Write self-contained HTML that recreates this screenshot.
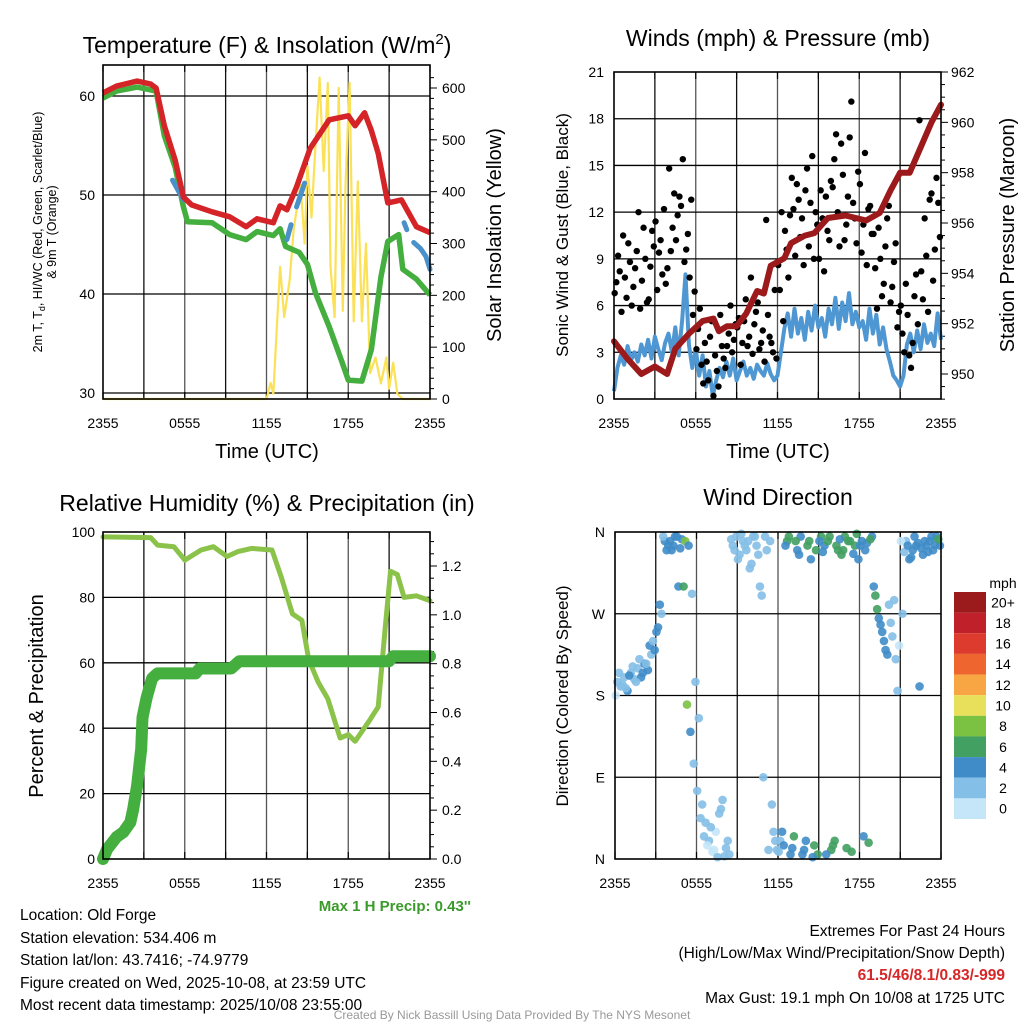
<!DOCTYPE html>
<html><head><meta charset="utf-8">
<style>
html,body{margin:0;padding:0;background:#fff;}
svg{display:block;font-family:"Liberation Sans",sans-serif;}
</style></head>
<body>
<svg id="s" width="1024" height="1024" viewBox="0 0 1024 1024" xmlns="http://www.w3.org/2000/svg">
<g id="g1"></g>
<g id="g2"></g>
<g id="g3"></g>
<g id="g4"></g>
<g id="txt">
<text x="267" y="53" font-size="23" text-anchor="middle">Temperature (F) &amp; Insolation (W/m<tspan dy="-9" font-size="15">2</tspan><tspan dy="9">)</tspan></text>
<text transform="translate(42,232) rotate(-90)" font-size="12.5" text-anchor="middle">2m T, T<tspan dy="3" font-size="9">d</tspan><tspan dy="-3">, HI/WC (Red, Green, Scarlet/Blue)</tspan></text>
<text transform="translate(56,232) rotate(-90)" font-size="12.5" text-anchor="middle">&amp; 9m T (Orange)</text>
<text transform="translate(501,235) rotate(-90)" font-size="20" text-anchor="middle">Solar Insolation (Yellow)</text>
<text x="267" y="458" font-size="20" text-anchor="middle">Time (UTC)</text>
<text x="778" y="46" font-size="23" text-anchor="middle">Winds (mph) &amp; Pressure (mb)</text>
<text transform="translate(568,235) rotate(-90)" font-size="17" text-anchor="middle">Sonic Wind &amp; Gust (Blue, Black)</text>
<text transform="translate(1014,235) rotate(-90)" font-size="20" text-anchor="middle">Station Pressure (Maroon)</text>
<text x="778" y="458" font-size="20" text-anchor="middle">Time (UTC)</text>
<text x="267" y="511" font-size="23" text-anchor="middle">Relative Humidity (%) &amp; Precipitation (in)</text>
<text transform="translate(43,696) rotate(-90)" font-size="20" text-anchor="middle">Percent &amp; Precipitation</text>
<text x="471" y="911" font-size="15" font-weight="bold" fill="#3a9a2a" text-anchor="end">Max 1 H Precip: 0.43''</text>
<text x="778" y="505" font-size="23" text-anchor="middle">Wind Direction</text>
<text transform="translate(568,696) rotate(-90)" font-size="17" text-anchor="middle">Direction (Colored By Speed)</text>
<text x="1003" y="588" font-size="14" text-anchor="middle">mph</text>
<g font-size="15.5">
<text x="20" y="920">Location: Old Forge</text>
<text x="20" y="943">Station elevation: 534.406 m</text>
<text x="20" y="965">Station lat/lon: 43.7416; -74.9779</text>
<text x="20" y="988">Figure created on Wed, 2025-10-08, at 23:59 UTC</text>
<text x="20" y="1010">Most recent data timestamp: 2025/10/08 23:55:00</text>
</g>
<g font-size="15.5" text-anchor="end">
<text x="1005" y="936">Extremes For Past 24 Hours</text>
<text x="1005" y="958">(High/Low/Max Wind/Precipitation/Snow Depth)</text>
<text x="1005" y="980" fill="#d62728" font-weight="bold">61.5/46/8.1/0.83/-999</text>
<text x="1005" y="1003">Max Gust: 19.1 mph On 10/08 at 1725 UTC</text>
</g>
<text x="512" y="1019" font-size="12" fill="#999" text-anchor="middle">Created By Nick Bassill Using Data Provided By The NYS Mesonet</text>
</g>
</svg>
<script>
// ---- data ----
const xTickLabels=["2355","0555","1155","1755","2355"];
const tempHours=[0,1,2.5,3.5,3.9,4.5,5.3,5.9,6.5,8,9.3,10.5,11.3,12.5,13,13.5,14.2,15.2,16.6,18,18.5,19.2,19.7,20.2,20.9,21.9,23,24];
const tempVals=[60.3,61,61.5,61.2,60.8,57,53.5,49.8,49,48.3,47.8,46.8,47.6,47.2,48.9,48.5,50.8,54.7,57.6,58,57,58.3,56.5,54.2,49.2,49.5,46.8,46.2];
const dewHours=[0,1,2.5,3.9,4.5,5.3,5.9,6.2,8,9.3,10.5,11.3,12.5,13,13.4,14.4,15,15.6,16.6,17.5,18,19,19.7,20.4,20.9,21.7,22,23,24];
const dewVals=[59.8,60.5,60.9,60.5,56,52.8,48.8,47.3,47.2,46,45.5,46.3,45.9,46.6,44.8,44.2,43,40.1,36.7,33.3,31.3,31.2,34.4,41.7,45.3,46,42.5,41.5,39.9];
const hiHours=[5.1,5.5,5.9,null,13.5,13.8,null,14.2,14.5,14.8,null,20.8,21.0,null,22.1,22.3,null,22.8,23.3,23.7,24];
const hiVals=[51.5,50.5,49.5,null,45.5,47,null,48.8,50,51.2,null,50,49.3,null,47.2,46.5,null,45.2,44.6,43.8,42.5];
const solarHours=[0,12,12.3,12.5,13,13.3,13.7,14,14.5,14.8,15,15.3,15.6,15.9,16.2,16.5,16.7,17,17.3,17.6,17.8,18.1,18.4,18.7,19,19.3,19.6,20,20.4,20.8,21,21.3,21.6,22,24];
const solarVals=[0,0,31,10,255,158,230,330,413,300,450,350,490,620,440,610,255,158,600,170,413,610,150,420,150,300,50,80,30,80,20,70,10,0,0];
const windVals=[0.5,2.0,2.8,2.2,3.4,2.5,3.0,2.4,3.5,
2.8,3.8,2.6,4.0,3.2,2.5,3.6,4.2,
3.0,4.6,2.8,5.0,8.0,3.5,2.0,3.2,
1.5,2.8,0.8,1.8,0.2,1.2,2.0,1.4,
2.4,1.5,2.6,1.2,1.8,2.4,1.5,2.0,
1.3,2.2,1.8,1.5,2.3,1.6,1.2,1.5,
3.0,4.5,5.5,4.0,5.8,4.2,5.2,3.8,
5.6,4.4,6.0,4.6,5.2,4.0,5.8,4.8,
6.5,4.5,6.2,5.0,6.8,4.8,5.6,4.6,
5.0,3.8,5.8,4.2,5.4,3.5,4.6,3.2,
2.4,1.5,1.2,0.8,1.5,3.5,4.2,3.0,
4.4,3.2,4.8,3.6,4.2,3.4,5.5,3.8];
const gustVals=[7.5,8.2,10.5,6.5,8.8,7.2,9.5,5.8,11,6.2,8.5,9.8,7.0,10.2,12.2,8.4,
9.5,13.2,11.8,12.4,8.8,10.6,12.8,6.9,
4.5,2.2,3.6,1.2,5.0,2.8,0.8,3.4,2.0,4.2,3.0,4.8,
5.2,3.6,6.4,4.0,2.9,5.6,3.2,4.4,11.5,4.0,3.0,2.6,
7.0,5.0,9.6,11.8,12.2,13.8,10.4,8.6,14.8,12.6,9.0,11.2,13.4,8.2,10.8,14.0,
15.4,12.0,16.4,10.2,13.0,19.1,11.6,14.6,9.4,15.8,12.2,10.6,
8.4,11.0,6.6,9.8,12.4,7.2,10.0,5.6,
4.2,7.4,2.8,3.6,8.0,17.9,
6.4,9.2,12.8,7.6,14.2,10.4];
const gustVals2=[6.8,9.2,5.6,7.8,10.0,6.0,8.4,12.0,7.6,9.0,6.4,10.8,11.4,9.4,8.0,7.4,
14.8,11.0,10.2,13.0,15.4,9.6,7.8,5.4,
3.2,5.8,1.0,2.4,4.0,0.2,1.8,5.4,2.6,3.4,6.0,3.8,
4.6,2.2,5.0,3.4,7.8,4.8,6.2,3.6,2.4,5.4,3.6,7.0,
8.6,12.0,10.8,7.8,14.2,9.2,12.8,11.6,13.4,9.8,15.6,12.0,9.0,11.6,13.0,10.2,
13.6,17.0,9.8,14.4,11.2,16.8,12.6,10.0,13.8,11.2,8.6,12.4,
10.6,5.8,9.0,7.4,11.6,6.2,8.8,4.6,
6.0,3.0,5.4,2.0,6.6,4.8,
8.2,11.6,5.6,13.2,9.6,12.6];
const presHours=[0,1,2,3,3.9,4.5,5.5,6.5,7.3,7.7,8.3,9,9.7,10.5,11,11.5,12.5,13,14,14.7,15.7,17,18.5,19.5,20.3,21,21.7,22.5,23.3,24];
const presVals=[951.3,950.6,950.0,950.3,950.0,951.0,951.6,952.1,952.2,951.7,951.9,951.9,952.4,953.3,953.2,954.3,954.6,955.2,955.5,955.6,956.2,956.3,956.1,956.4,957.3,958.0,958.0,959.0,960.0,960.7];
const rhHours=[0,3.5,4,5.2,6,7.2,8.1,9.1,9.9,10.9,12.4,13.1,13.9,14.6,15.1,15.8,16.5,17.4,18,18.5,19.5,20.2,20.7,21.1,21.6,22.1,23,24];
const rhVals=[98.5,98.3,96,95.5,91.4,94.5,95.5,92.5,94,95,94.5,86,75,73,61,54,49,37,38,36,42,46.5,70,88,87,80,80.5,79];
const precipHours=[0,0.3,1,1.5,2,2.2,2.5,2.7,2.8,2.9,3.2,3.6,4,6.8,7.1,9.4,10,21,21.3,24];
const precipVals=[0,0.04,0.09,0.11,0.15,0.2,0.3,0.4,0.45,0.58,0.66,0.74,0.76,0.76,0.78,0.78,0.81,0.81,0.83,0.83];
const dirVals=[195,190,200,185,205,198,210,200,215,208,225,230,255,270,
350,345,340,355,
300,352,350,345,292,195,
155,60,40,20,8,30,50,65,12,5,
345,355,335,350,340,320,355,345,300,90,
340,350,30,10,
20,15,350,5,25,340,355,10,345,330,15,5,
355,345,350,10,20,340,335,355,350,8,345,330,350,340,18,355,
290,265,250,230,280,245,220,235,
270,350,330,340,345,190,
335,345,350,340,355,345];
const dirVals2=[180,205,192,188,202,212,195,220,205,215,235,240,250,280,
355,340,350,345,
355,342,300,170,140,105,
75,45,25,15,35,10,2,55,3,20,
352,340,330,358,345,350,325,355,335,290,
355,10,60,20,
8,30,345,355,12,350,335,5,20,350,2,340,
350,338,5,355,15,345,352,340,12,350,336,358,345,25,348,352,
300,275,258,240,225,260,285,185,
350,338,345,332,355,348,
342,350,338,355,346,352];
const cbLabels=["20+","18","16","14","12","10","8","6","4","2","0"];
const cbColors=["#9b1b1c","#c0202a","#dd3b2e","#ef6530","#f7a643","#e8e05a","#7bc142","#41a062","#3f8cc8","#84bfe7","#c4e6f8"];

// ---- helpers ----
const NS="http://www.w3.org/2000/svg";
function mk(parent,tag,attrs){const e=document.createElementNS(NS,tag);for(const k in attrs)e.setAttribute(k,attrs[k]);parent.appendChild(e);return e;}
function lin(d0,d1,r0,r1){return v=>r0+(v-d0)*(r1-r0)/(d1-d0);}
function pathOf(hs,vs,X,Y){let d="",pen=false;for(let i=0;i<hs.length;i++){if(hs[i]===null||vs[i]===null){pen=false;continue;}d+=(pen?"L":"M")+X(hs[i]).toFixed(1)+" "+Y(vs[i]).toFixed(1);pen=true;}return d;}
function frame(g,x0,x1,y0,y1,X){
  for(let h=3;h<24;h+=3){const l=mk(g,"line",{x1:X(h),x2:X(h),y1:y0,y2:y1,stroke:(h%6==0)?"#555":"#111","stroke-width":1.3});
  
  }
  for(let h=0;h<=24;h+=3){mk(g,"line",{x1:X(h),x2:X(h),y1:y1,y2:y1-7,stroke:"#000","stroke-width":1.2});mk(g,"line",{x1:X(h),x2:X(h),y1:y0,y2:y0+7,stroke:"#000","stroke-width":1.2});}
  xTickLabels.forEach((t,i)=>{const e=mk(g,"text",{x:X(i*6),y:y1+29,"font-size":14,"text-anchor":"middle"});e.textContent=t;
  
  });
}
function border(g,x0,x1,y0,y1){const r=mk(g,"rect",{x:x0,y:y0,width:x1-x0,height:y1-y0,fill:"none",stroke:"#000","stroke-width":1.6});

}
function hline(g,x0,x1,y){mk(g,"line",{x1:x0,x2:x1,y1:y,y2:y,stroke:"#000","stroke-width":1.3});}
function lab(g,x,y,t,anchor,name){const e=mk(g,"text",{x:x,y:y,"font-size":14,"text-anchor":anchor});e.textContent=t;

}

// ---- panel 1 ----
(function(){
 const g=document.getElementById('g1');const x0=103,x1=430,y0=65,y1=399;
 const X=lin(0,24,x0,x1),Y=lin(30,60,393,96),S=lin(0,600,399,88);
 frame(g,x0,x1,y0,y1,X);
 [30,40,50,60].forEach(v=>{hline(g,x0,x1,Y(v));lab(g,x0-8,Y(v)+5,String(v),"end",'temp-y-tick');});
 for(let v=0;v<=620;v+=20)mk(g,"line",{x1:x1,x2:x1+(v%100==0?7:4),y1:S(v),y2:S(v),stroke:"#000","stroke-width":1});
 [0,100,200,300,400,500,600].forEach(v=>lab(g,x1+12,S(v)+5,String(v),"start",'solar-y-tick'));
 const sp=mk(g,"path",{d:pathOf(solarHours,solarVals,X,S),fill:"none",stroke:"#fbe157","stroke-width":2.2,"stroke-linejoin":"round"});
 
 
 const dp=mk(g,"path",{d:pathOf(dewHours,dewVals,X,Y),fill:"none",stroke:"#44ae3e","stroke-width":5.5,"stroke-linejoin":"round"});
 
 
 const hp=mk(g,"path",{d:pathOf(hiHours,hiVals,X,Y),fill:"none",stroke:"#4a90c9","stroke-width":5,"stroke-linecap":"round"});
 
 
 const tp=mk(g,"path",{d:pathOf(tempHours,tempVals,X,Y),fill:"none",stroke:"#d42428","stroke-width":5.5,"stroke-linejoin":"round"});
 
 
 border(g,x0,x1,y0,y1);
})();

// ---- panel 2 ----
(function(){
 const g=document.getElementById('g2');const x0=614,x1=941,y0=72,y1=399;
 const X=lin(0,24,x0,x1),Y=lin(0,21,399,72),P=lin(950,962,374,72);
 frame(g,x0,x1,y0,y1,X);
 [3,6,9,12,15,18].forEach(v=>hline(g,x0,x1,Y(v)));
 [0,3,6,9,12,15,18,21].forEach(v=>lab(g,x0-10,Y(v)+5,String(v),"end",'wind-y-tick'));
 for(let v=949;v<=962.01;v+=0.5)mk(g,"line",{x1:x1,x2:x1+((Math.abs(v%2)<0.01)?7:4),y1:P(v),y2:P(v),stroke:"#000","stroke-width":1});
 [950,952,954,956,958,960,962].forEach(v=>lab(g,x1+10,P(v)+5,String(v),"start",'pressure-y-tick'));
 const wh=windVals.map((v,i)=>i*0.25);
 const wp=mk(g,"path",{d:pathOf(wh,windVals,X,Y),fill:"none",stroke:"#4f97d2","stroke-width":4,"stroke-linejoin":"round"});
 
 
 gustVals.forEach((v,i)=>{const c=mk(g,"circle",{cx:X(i*0.25+0.17),cy:Y(v),r:3.2,fill:"#000"});
 
 });
 gustVals2.forEach((v,i)=>{const c=mk(g,"circle",{cx:X(i*0.25+0.05),cy:Y(v),r:3.2,fill:"#000"});
 
 });
 const pp=mk(g,"path",{d:pathOf(presHours,presVals,X,P),fill:"none",stroke:"#9c1a1c","stroke-width":6,"stroke-linejoin":"round","stroke-linecap":"round"});
 
 
 border(g,x0,x1,y0,y1);
})();

// ---- panel 3 ----
(function(){
 const g=document.getElementById('g3');const x0=103,x1=430,y0=532,y1=859;
 const X=lin(0,24,x0,x1),Y=lin(0,100,859,532),R=lin(0,1.2,859,566);
 frame(g,x0,x1,y0,y1,X);
 [20,40,60,80].forEach(v=>hline(g,x0,x1,Y(v)));
 [0,20,40,60,80,100].forEach(v=>lab(g,x0-8,Y(v)+5,String(v),"end",'rh-y-tick'));
 for(let v=0;v<=1.32;v+=0.05)mk(g,"line",{x1:x1,x2:x1+((Math.round(v*100)%20==0)?7:4),y1:R(v),y2:R(v),stroke:"#000","stroke-width":1});
 [0,0.2,0.4,0.6,0.8,1.0,1.2].forEach(v=>lab(g,x1+12,R(v)+5,v.toFixed(1),"start",'precip-y-tick'));
 const rp=mk(g,"path",{d:pathOf(rhHours,rhVals,X,Y),fill:"none",stroke:"#8bc34a","stroke-width":5,"stroke-linejoin":"round","stroke-linecap":"round"});
 
 
 const pr=mk(g,"path",{d:pathOf(precipHours,precipVals,X,R),fill:"none",stroke:"#44ae3e","stroke-width":12,"stroke-linejoin":"round","stroke-linecap":"round"});
 
 
 border(g,x0,x1,y0,y1);
})();

// ---- panel 4 ----
(function(){
 const g=document.getElementById('g4');const x0=615,x1=941,y0=532,y1=859;
 const X=lin(0,24,x0,x1),Y=lin(0,360,859,532);
 frame(g,x0,x1,y0,y1,X);
 [90,180,270].forEach(v=>hline(g,x0,x1,Y(v)));
 ["N","E","S","W","N"].forEach((t,i)=>lab(g,x0-10,Y(i*90)+5,t,"end",'direction-y-tick'));
 function spdAt(h){const i=Math.min(95,Math.floor(h/0.25));const f=(h-i*0.25)/0.25;return windVals[i]*(1-f)+windVals[i+1]*f;}
 function colorFor(s){const b=Math.min(10,Math.max(0,Math.round(s/2)));return cbColors[10-b];}
 function dots(arr,off){arr.forEach((d,i)=>{const h=i*0.25+off;const c=mk(g,"circle",{cx:X(h),cy:Y(d),r:4.3,fill:colorFor(spdAt(h)),opacity:0.9});
 
 });}
 dots(dirVals,0.17);dots(dirVals2,0.05);
 border(g,x0,x1,y0,y1);
 const cb=mk(g,"g",{});
 
 
 const h=227/cbColors.length;
 cbColors.forEach((c,i)=>{mk(cb,"rect",{x:954,y:592+i*h,width:32,height:h,fill:c});
 const t=mk(cb,"text",{x:1003,y:592+i*h+h/2+5,"font-size":14,"text-anchor":"middle"});t.textContent=cbLabels[i];
 
 });
})();
</script>
</body></html>
